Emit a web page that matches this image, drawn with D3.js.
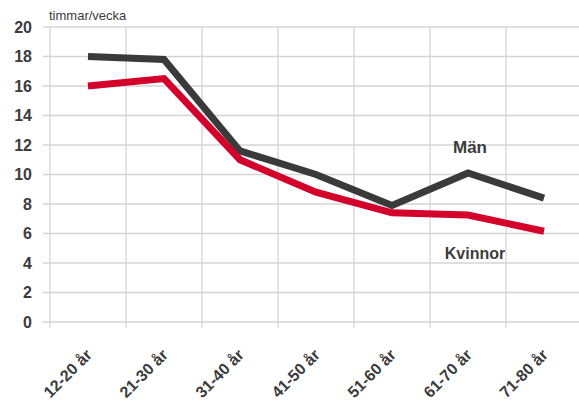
<!DOCTYPE html>
<html>
<head>
<meta charset="utf-8">
<script src="https://cdn.jsdelivr.net/npm/d3@7"></script>
<style>
  body { margin: 0; background: #fff; }
  svg { font-family: "Liberation Sans", Arial, sans-serif; }
</style>
</head>
<body>
<svg id="chart" width="579" height="401"></svg>
<script>
const categories = ['12-20 år', '21-30 år', '31-40 år', '41-50 år', '51-60 år', '61-70 år', '71-80 år']
const man = [18.0, 17.8, 11.6, 10.0, 7.9, 10.1, 8.4]
const kvinnor = [16.0, 16.5, 11.0, 8.8, 7.4, 7.25, 6.15]
const yTicks = [0, 2, 4, 6, 8, 10, 12, 14, 16, 18, 20]

let svg = d3.select('#chart')
let plotLeft = 50, plotRight = 582, plotTop = 27, plotBottom = 322

let x = d3.scaleBand().domain(categories).range([plotLeft, plotRight])
let y = d3.scaleLinear().domain([0, 20]).range([plotBottom, plotTop])

// grid
svg.append('g')
  .selectAll('line')
  .data(yTicks)
  .enter().append('line')
  .attr('x1', plotLeft - 7).attr('x2', 579)
  .attr('y1', d => y(d)).attr('y2', d => y(d))
  .attr('stroke', '#d4d4d4').attr('stroke-width', 1.3)

svg.append('g')
  .selectAll('line')
  .data(categories)
  .enter().append('line')
  .attr('x1', d => x(d)).attr('x2', d => x(d))
  .attr('y1', plotTop).attr('y2', plotBottom + 6)
  .attr('stroke', '#d4d4d4').attr('stroke-width', 1.3)

// y labels
svg.append('g')
  .selectAll('text')
  .data(yTicks)
  .enter().append('text')
  .attr('x', 32).attr('y', d => y(d))
  .attr('dy', '0.36em')
  .attr('text-anchor', 'end')
  .attr('font-size', 16).attr('font-weight', 'bold')
  .attr('fill', '#3c3c3c')
  .text(d => d)

svg.append('text')
  .attr('x', 49).attr('y', 20)
  .attr('font-size', 13).attr('fill', '#3c3c3c')
  .text('timmar/vecka')

// x labels
svg.append('g')
  .selectAll('text')
  .data(categories)
  .enter().append('text')
  .attr('transform', d => `translate(${x(d) + x.bandwidth() / 2 + 1},${plotBottom + 30}) rotate(-45)`)
  .attr('text-anchor', 'end')
  .attr('dy', '0.35em')
  .attr('font-size', 16).attr('font-weight', 'bold')
  .attr('fill', '#3c3c3c')
  .text(d => d)

let line = d3.line()
  .x((d, i) => x(categories[i]) + x.bandwidth() / 2)
  .y(d => y(d))

svg.append('path')
  .datum(man)
  .attr('d', line)
  .attr('fill', 'none').attr('stroke', '#3a3a3a').attr('stroke-width', 7)

svg.append('path')
  .datum(kvinnor)
  .attr('d', line)
  .attr('fill', 'none').attr('stroke', '#d2002b').attr('stroke-width', 7)

svg.append('text')
  .attr('x', 470).attr('y', 147).attr('dy', '0.35em')
  .attr('text-anchor', 'middle')
  .attr('font-size', 17).attr('font-weight', 'bold').attr('fill', '#3c3c3c')
  .text('Män')

svg.append('text')
  .attr('x', 475).attr('y', 253).attr('dy', '0.35em')
  .attr('text-anchor', 'middle')
  .attr('font-size', 16).attr('font-weight', 'bold').attr('fill', '#3c3c3c')
  .text('Kvinnor')
</script>
</body>
</html>
